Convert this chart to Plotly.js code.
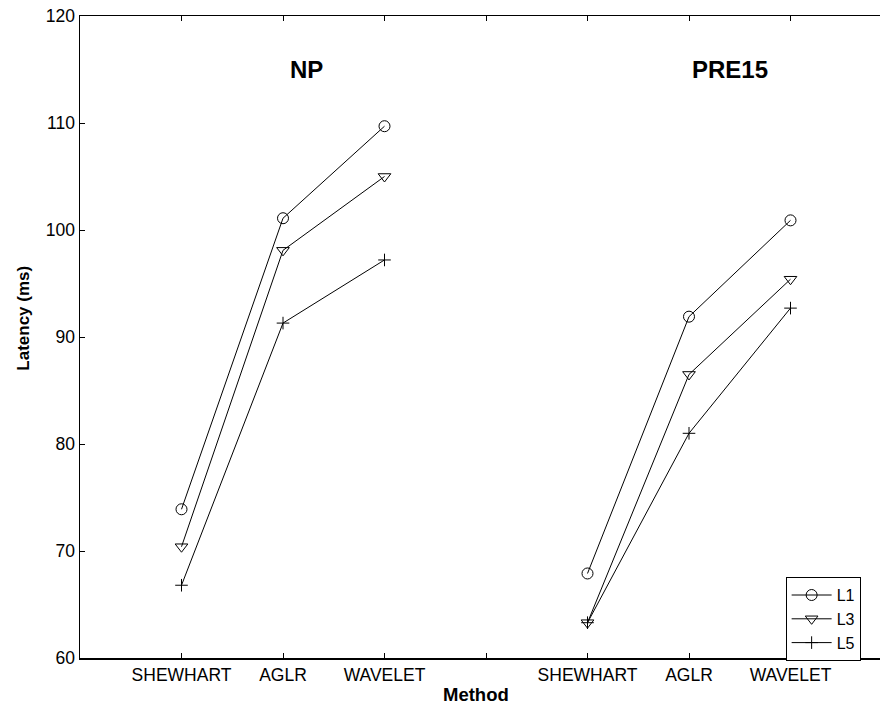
<!DOCTYPE html>
<html>
<head>
<meta charset="utf-8">
<script src="https://cdn.plot.ly/plotly-3.0.1.min.js"></script>
<style>
  html, body { margin: 0; padding: 0; background: #fff; overflow: hidden; }
  #chart { width: 900px; height: 706px; }
</style>
</head>
<body>
<div id="chart"></div>
<script>
// Detection methods, repeated for each condition group
const methods = ['SHEWHART', 'AGLR', 'WAVELET'];
const groups = ['NP', 'PRE15'];
const levels = ['L1', 'L3', 'L5'];

// Latency (ms) per method, condition NP
const npL1 = [73.9, 101.1, 109.7];
const npL3 = [70.4, 98.1, 105.0];
const npL5 = [66.8, 91.3, 97.2];

// Latency (ms) per method, condition PRE15
const pre15L1 = [67.9, 91.9, 100.9];
const pre15L3 = [63.3, 86.5, 95.4];
const pre15L5 = [63.3, 81.0, 92.7];

const symbols = { L1: 'circle-open', L3: 'triangle-down-open', L5: 'cross-thin-open' };
const sizes = { L1: 11, L3: 11, L5: 9 };
const seriesByLevel = {
  L1: [npL1, pre15L1],
  L3: [npL3, pre15L3],
  L5: [npL5, pre15L5]
};

// x positions: NP methods at 1..3, a blank slot at 4, PRE15 methods at 5..7
const xVals = [];
const tickVals = [];
const tickLabels = [];
groups.forEach((g, gi) => {
  methods.forEach((m, mi) => {
    const pos = gi * (methods.length + 1) + mi + 1;
    xVals.push(pos);
    tickVals.push(pos);
    tickLabels.push(m);
  });
  if (gi < groups.length - 1) {
    xVals.push(null);
    tickVals.push((gi + 1) * (methods.length + 1));
    tickLabels.push('');
  }
});

const traces = levels.map(lv => {
  const [a, b] = seriesByLevel[lv];
  return {
    type: 'scatter',
    mode: 'lines+markers',
    name: lv,
    x: xVals,
    y: [...a, null, ...b],
    connectgaps: false,
    line: { color: '#000', width: 1 },
    marker: {
      symbol: symbols[lv],
      size: sizes[lv],
      color: '#000',
      line: { color: '#000', width: 1 }
    }
  };
});

const baseFont = { family: 'Liberation Sans, Arial, Helvetica, sans-serif', color: '#000' };

const layout = {
  width: 900,
  height: 706,
  margin: { l: 80, r: 8, t: 16, b: 48 },
  paper_bgcolor: '#fff',
  plot_bgcolor: '#fff',
  font: Object.assign({ size: 17 }, baseFont),
  showlegend: true,
  legend: {
    x: 0.869, xanchor: 'left',
    y: 0.126, yanchor: 'top',
    bgcolor: '#fff',
    bordercolor: '#000',
    borderwidth: 1,
    font: Object.assign({ size: 16 }, baseFont),
    tracegroupgap: 0,
    itemwidth: 40
  },
  xaxis: {
    range: [0, 8],
    tickmode: 'array',
    tickvals: tickVals,
    ticktext: tickLabels,
    ticks: 'inside',
    ticklen: 5,
    tickwidth: 1,
    tickcolor: '#000',
    showline: true,
    linecolor: '#000',
    linewidth: 1.5,
    mirror: 'ticks',
    showgrid: false,
    zeroline: false,
    tickfont: Object.assign({ size: 17.5 }, baseFont)
  },
  yaxis: {
    range: [60, 120],
    tickmode: 'linear',
    tick0: 60,
    dtick: 10,
    ticks: 'inside',
    ticklen: 5,
    tickwidth: 1,
    tickcolor: '#000',
    showline: true,
    linecolor: '#000',
    linewidth: 1.5,
    mirror: 'ticks',
    showgrid: false,
    zeroline: false,
    tickfont: Object.assign({ size: 17.5 }, baseFont)
  },
  annotations: [
    { text: '<b>NP</b>', x: 2.23, y: 115, xref: 'x', yref: 'y', showarrow: false,
      font: Object.assign({ size: 24 }, baseFont) },
    { text: '<b>PRE15</b>', x: 6.4, y: 115, xref: 'x', yref: 'y', showarrow: false,
      font: Object.assign({ size: 24 }, baseFont) },
    { text: '<b>Method</b>', x: 0.488, y: -0.057, xref: 'paper', yref: 'paper',
      xanchor: 'center', yanchor: 'middle', showarrow: false,
      font: Object.assign({ size: 18.5 }, baseFont) },
    { text: '<b>Latency (ms)</b>', x: -0.069, y: 0.53, xref: 'paper', yref: 'paper',
      xanchor: 'center', yanchor: 'middle', textangle: -90, showarrow: false,
      font: Object.assign({ size: 17 }, baseFont) }
  ]
};

Plotly.newPlot('chart', traces, layout, { staticPlot: true, displayModeBar: false });
</script>
</body>
</html>
